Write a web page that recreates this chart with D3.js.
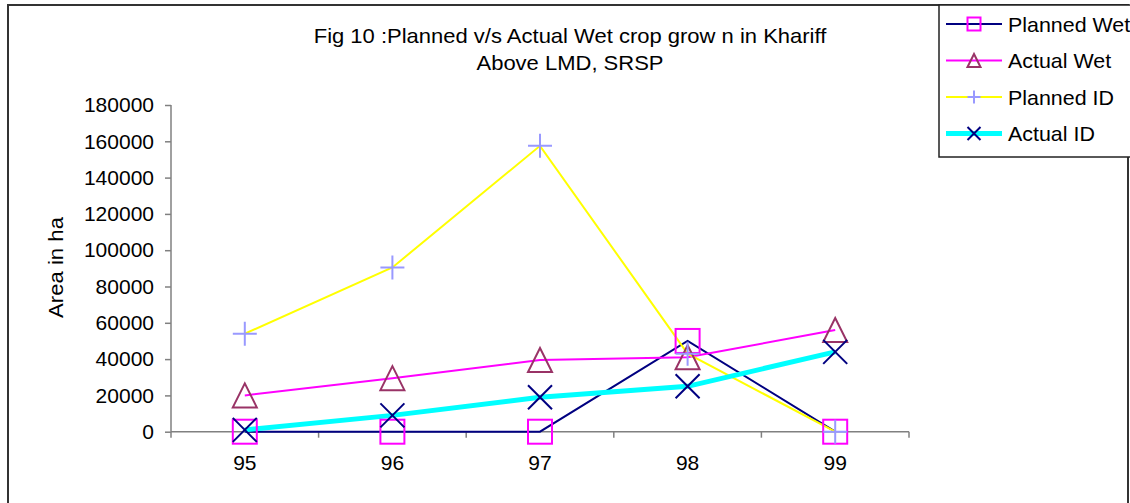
<!DOCTYPE html>
<html><head><meta charset="utf-8">
<script src="https://cdn.jsdelivr.net/npm/d3@7"></script>
<style>body{margin:0;background:#fff}svg{display:block;font-family:"Liberation Sans",Arial,sans-serif}</style>
</head><body><svg id="c" width="1130" height="503"></svg>
<script>
const categories = ["95","96","97","98","99"];
const plannedWet = [0, 0, 0, 50000, 0];
const actualWet = [20000, 29500, 39500, 41000, 56000];
const plannedID = [54000, 90500, 157500, 43000, 0];
const actualID = [1000, 9000, 19000, 25000, 44000];
const yTicks = [0,20000,40000,60000,80000,100000,120000,140000,160000,180000];
const titleLines = ["Fig 10 :Planned v/s Actual Wet crop grow n in Khariff","Above LMD, SRSP"];
const seriesNames = ["Planned Wet","Actual Wet","Planned ID","Actual ID"];

const styles = [
  {line:"#000080", lw:2, marker:"square", mc:"#FF00FF"},
  {line:"#FF00FF", lw:2, marker:"triangle", mc:"#993366"},
  {line:"#FFFF00", lw:2, marker:"plus", mc:"#9999FF"},
  {line:"#00FFFF", lw:5, marker:"x", mc:"#000080"}
];
const series = [plannedWet, actualWet, plannedID, actualID].map((v,i)=>Object.assign({name:seriesNames[i], values:v}, styles[i]));

const svg = d3.select("#c");
svg.append("path").attr("d","M8,503 L8,5 L1128,5 L1128,503").attr("fill","none").attr("stroke","#333").attr("stroke-width",2);

const x = d3.scaleBand().domain(categories).range([171,909]);
const y = d3.scaleLinear().domain([0,180000]).range([431.7,105]);

const gy = svg.append("g").attr("transform","translate(171,0)")
  .call(d3.axisLeft(y).tickValues(yTicks).tickSize(6).tickPadding(11).tickFormat(d3.format("d")));
const gx = svg.append("g").attr("transform","translate(0,431.7)")
  .call(d3.axisBottom(x).tickSize(0).tickPadding(23));
[gy,gx].forEach(g=>{
  g.selectAll("path,line").attr("stroke","#808080").attr("stroke-width",1.5);
  g.selectAll("text").attr("fill","#000").style("font-size","21px").style("font-family","Liberation Sans, Arial, sans-serif");
});
const bounds = categories.map(c=>x(c)).concat([x(categories[categories.length-1])+x.bandwidth()]);
gx.selectAll(".bt").data(bounds).enter().append("line").attr("class","bt")
  .attr("x1",d=>d).attr("x2",d=>d).attr("y1",0).attr("y2",6).attr("stroke","#808080").attr("stroke-width",1.5);
gx.select("path.domain").attr("d",`M171,0H909`);
gy.select("path.domain").attr("d",`M0,${y(0)}V${y(180000)}`);

svg.append("text").attr("transform","translate(63,267.5) rotate(-90) scale(1.08,1)").attr("text-anchor","middle")
  .style("font-size","20.5px").text("Area in ha");

svg.selectAll(".title").data(titleLines).enter().append("text")
  .attr("transform",(d,i)=>`translate(570,${42.5+i*27}) scale(1.1,1)`).attr("text-anchor","middle").style("font-size","20px").text(d=>d);

const cx = c => x(c)+x.bandwidth()/2;
function drawMarker(g, type, color, px, py, s){
  if(type==="square") g.append("rect").attr("x",px-s).attr("y",py-s).attr("width",2*s).attr("height",2*s).attr("fill","none").attr("stroke",color).attr("stroke-width",2);
  else if(type==="triangle") g.append("path").attr("d",`M${px},${py-s}L${px+s},${py+s}L${px-s},${py+s}Z`).attr("fill","none").attr("stroke",color).attr("stroke-width",2);
  else if(type==="plus") g.append("path").attr("d",`M${px-s},${py}H${px+s}M${px},${py-s}V${py+s}`).attr("stroke",color).attr("stroke-width",2);
  else g.append("path").attr("d",`M${px-s},${py-s}L${px+s},${py+s}M${px+s},${py-s}L${px-s},${py+s}`).attr("stroke",color).attr("stroke-width",2);
}
const line = d3.line().x((d,i)=>cx(categories[i])).y(d=>y(d));
series.forEach(s=>{
  svg.append("path").datum(s.values).attr("d",line).attr("fill","none").attr("stroke",s.line).attr("stroke-width",s.lw);
});
series.forEach(s=>{
  const g = svg.append("g");
  s.values.forEach((v,i)=>drawMarker(g,s.marker,s.mc,cx(categories[i]),y(v),12));
});

const lg = svg.append("g");
lg.append("rect").attr("x",939).attr("y",5).attr("width",200).attr("height",152).attr("fill","#fff").attr("stroke","#222").attr("stroke-width",1.5);
series.forEach((s,i)=>{
  const ly = 24 + i*36.5;
  lg.append("line").attr("x1",946).attr("x2",1002).attr("y1",ly).attr("y2",ly).attr("stroke",s.line).attr("stroke-width",s.lw);
  drawMarker(lg.append("g"), s.marker, s.mc, 974, ly, 6.5);
  lg.append("text").attr("transform",`translate(1008,${ly+7.5}) scale(1.02,1)`).style("font-size","21px").text(s.name);
});
</script></body></html>
